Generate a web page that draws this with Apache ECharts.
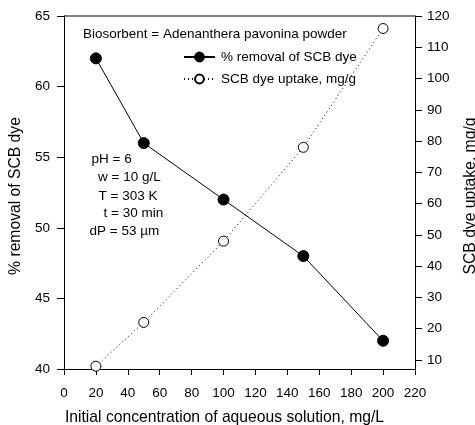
<!DOCTYPE html>
<html>
<head>
<meta charset="utf-8">
<script src="https://cdn.jsdelivr.net/npm/echarts@6/dist/echarts.min.js"></script>
<style>
  html, body { margin: 0; padding: 0; background: #fff; }
  #chart { width: 475px; height: 425px; }
</style>
</head>
<body>
<div id="chart"></div>
<script>
// Initial dye concentration (mg/L)
const concentration = [20, 50, 100, 150, 200];
// Percentage removal of SCB dye (left axis)
const removalPct = [62, 56, 52, 48, 42];
// SCB dye uptake, mg/g (right axis)
const uptake = [8, 22, 48, 78, 116];

const xTicks = [0, 20, 40, 60, 80, 100, 120, 140, 160, 180, 200, 220];
const leftTicks = [40, 45, 50, 55, 60, 65];
const rightTicks = [10, 20, 30, 40, 50, 60, 70, 80, 90, 100, 110, 120];

const conditions = ['pH = 6', 'w = 10 g/L', 'T = 303 K', 't = 30 min', 'dP = 53 \u00b5m'];

const FONT = '"Liberation Sans", Arial, sans-serif';
const FS = 13.5;   // tick labels, legend, notes
const TFS = 15.7;  // axis titles

const chart = echarts.init(document.getElementById('chart'), null, { renderer: 'canvas' });

const axisLineStyle = { color: '#000', width: 1 };
const noteFont = FS + 'px ' + FONT;
const titleFont = TFS + 'px ' + FONT;

const option = {
  animation: false,
  backgroundColor: '#fff',
  textStyle: { fontFamily: FONT, color: '#000' },
  grid: { left: 64, right: 60, top: 16, bottom: 56, show: false },
  legend: {
    orient: 'vertical',
    left: 183,
    top: 50,
    padding: 0,
    itemWidth: 31,
    itemHeight: 11,
    itemGap: 8,
    textStyle: { fontFamily: FONT, fontSize: FS, color: '#000', padding: [0, 0, 0, 1] },
    data: ['% removal of SCB dye', 'SCB dye uptake, mg/g']
  },
  xAxis: {
    type: 'value',
    min: 0,
    max: 220,
    interval: 20,
    axisLine: { show: true, onZero: false, lineStyle: axisLineStyle },
    axisTick: { show: true, length: 6, lineStyle: axisLineStyle, customValues: xTicks },
    axisLabel: { fontFamily: FONT, fontSize: FS, color: '#000', margin: 17, customValues: xTicks },
    splitLine: { show: false }
  },
  yAxis: [
    {
      type: 'value',
      position: 'left',
      min: 40,
      max: 65,
      interval: 5,
      axisLine: { show: true, lineStyle: axisLineStyle },
      axisTick: { show: true, length: 7, lineStyle: axisLineStyle, customValues: leftTicks },
      axisLabel: { fontFamily: FONT, fontSize: FS, color: '#000', margin: 14, customValues: leftTicks },
      splitLine: { show: false }
    },
    {
      type: 'value',
      position: 'right',
      min: 7.1,
      max: 120,
      axisLine: { show: true, lineStyle: axisLineStyle },
      axisTick: { show: true, length: 7, lineStyle: axisLineStyle, customValues: rightTicks },
      axisLabel: { fontFamily: FONT, fontSize: FS, color: '#000', margin: 12, customValues: rightTicks },
      splitLine: { show: false }
    }
  ],
  graphic: [
    // frame top edge
    { type: 'line', shape: { x1: 64, y1: 16, x2: 415, y2: 16 }, style: { stroke: '#000', lineWidth: 1 }, z: 10 },
    { type: 'text', x: 83, y: 34, style: { text: 'Biosorbent = Adenanthera pavonina powder', font: noteFont, fill: '#000', textVerticalAlign: 'middle' } },
    { type: 'text', x: 91.5, y: 159, style: { text: conditions[0], font: noteFont, fill: '#000', textVerticalAlign: 'middle' } },
    { type: 'text', x: 98, y: 177.5, style: { text: conditions[1], font: noteFont, fill: '#000', textVerticalAlign: 'middle' } },
    { type: 'text', x: 98.5, y: 196, style: { text: conditions[2], font: noteFont, fill: '#000', textVerticalAlign: 'middle' } },
    { type: 'text', x: 103.5, y: 213.5, style: { text: conditions[3], font: noteFont, fill: '#000', textVerticalAlign: 'middle' } },
    { type: 'text', x: 89.5, y: 231.5, style: { text: conditions[4], font: noteFont, fill: '#000', textVerticalAlign: 'middle' } },
    // axis titles
    { type: 'text', x: 16, y: 196, rotation: Math.PI / 2, style: { text: '% removal of SCB dye', font: titleFont, fill: '#000', textAlign: 'center', textVerticalAlign: 'middle' } },
    { type: 'text', x: 471, y: 196, rotation: Math.PI / 2, style: { text: 'SCB dye uptake, mg/g', font: titleFont, fill: '#000', textAlign: 'center', textVerticalAlign: 'middle' } },
    { type: 'text', x: 224.5, y: 418, style: { text: 'Initial concentration of aqueous solution, mg/L', font: titleFont, fill: '#000', textAlign: 'center', textVerticalAlign: 'middle' } }
  ],
  series: [
    {
      name: '% removal of SCB dye',
      type: 'line',
      yAxisIndex: 0,
      data: concentration.map((c, i) => [c, removalPct[i]]),
      symbol: 'circle',
      symbolSize: 11,
      itemStyle: { color: '#000', borderColor: '#000', borderWidth: 1 },
      lineStyle: { color: '#000', width: 1, type: 'solid' },
      z: 3
    },
    {
      name: 'SCB dye uptake, mg/g',
      type: 'line',
      yAxisIndex: 1,
      data: concentration.map((c, i) => [c, uptake[i]]),
      symbol: 'circle',
      symbolSize: 10,
      itemStyle: { color: '#fff', borderColor: '#000', borderWidth: 1 },
      lineStyle: { color: '#000', width: 1, type: [1, 3] },
      z: 2
    }
  ]
};

chart.setOption(option);
</script>
</body>
</html>
